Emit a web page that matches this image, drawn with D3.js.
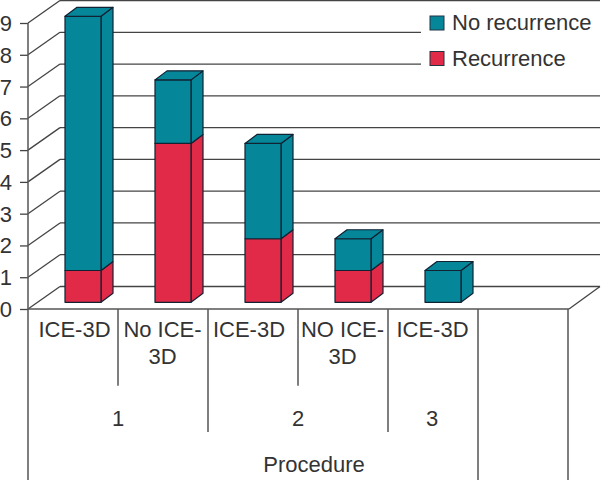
<!DOCTYPE html>
<html>
<head>
<meta charset="utf-8">
<script src="https://cdn.jsdelivr.net/npm/d3@7"></script>
<style>
html,body{margin:0;padding:0;background:#fff;}
svg{display:block;}
text{font-family:"Liberation Sans",Arial,sans-serif;fill:#333;}
</style>
</head>
<body>
<script>
const categories = ["a","b","c","d","e","f"];
const categoryLines = [["ICE-3D"],["No ICE-","3D"],["ICE-3D"],["NO ICE-","3D"],["ICE-3D"],[]];
const recurrence = [1,5,2,1,0,0];
const noRecurrence = [8,2,3,1,1,0];
const procedureNames = ["1","2","3"];
const seriesNames = ["Recurrence","No recurrence"];
const seriesColors = ["#e12a47","#058799"];
const legendNames = ["No recurrence","Recurrence"];
const legendColors = ["#058799","#e12a47"];
const yTicks = [0,1,2,3,4,5,6,7,8,9];

const W=601,H=480;
const labelShift=[1.5,-0.5,-4,-0.5,-0.5,0];
const procedureX=[118,298,432];
const svg=d3.select("body").append("svg").attr("width",W).attr("height",H);
const x=d3.scaleBand().domain(categories).range([28,568]);
const y=d3.scaleLinear().domain([0,9]).range([309,23]);
const wallDx=32,wallDy=-22.5;
const barOffset=37,barW=36,floorDy=-6.7,depthX=12,depthY=-9;
const lineCol="#444";

// back wall grid + side wall
const grid=svg.append("g").attr("fill","none").attr("stroke",lineCol).attr("stroke-width",1.3);
yTicks.forEach(t=>{
  const yy=y(t);
  grid.append("line").attr("x1",x.range()[0]).attr("y1",yy).attr("x2",x.range()[0]+wallDx).attr("y2",yy+wallDy);
  const broken=(t===8||t===7);
  grid.append("line").attr("x1",x.range()[0]+wallDx).attr("y1",yy+wallDy)
    .attr("x2",broken?421:600).attr("y2",yy+wallDy);
});
grid.append("line").attr("x1",569).attr("y1",y(0)).attr("x2",600).attr("y2",y(0)+wallDy);

// y axis
const axis=svg.append("g").attr("transform","translate(28,0)")
  .call(d3.axisLeft(y).tickValues(yTicks).tickSize(8).tickPadding(8).tickFormat(d3.format("d")));
axis.select(".domain").remove();
axis.selectAll("line").attr("stroke",lineCol).attr("stroke-width",1.3);
axis.selectAll("text").attr("font-size",22).attr("fill","#333").attr("dy","0.34em");
axis.attr("font-family",null);

// frame under the floor
const frame=svg.append("g").attr("stroke","#555").attr("stroke-width",1.5);
frame.append("line").attr("x1",28).attr("y1",y(9)).attr("x2",28).attr("y2",H);
frame.append("line").attr("x1",28).attr("y1",y(0)).attr("x2",569).attr("y2",y(0));
const edges=categories.map(c=>x(c)).concat([x.range()[1]]);
edges.slice(1).forEach((e,i)=>{
  const idx=i+1;
  const end=idx>=5?H:(idx%2===0?432:385.7);
  frame.append("line").attr("x1",e).attr("y1",y(0)).attr("x2",e).attr("y2",end);
});

// stacked bars
const rows=categories.map((c,i)=>({cat:c,Recurrence:recurrence[i],"No recurrence":noRecurrence[i]}));
const stacked=d3.stack().keys(seriesNames)(rows);
const barStroke="#123";
const bars=svg.append("g").attr("stroke",barStroke).attr("stroke-width",1.2).attr("stroke-linejoin","round");
stacked.forEach((s,si)=>{
  s.forEach((d,i)=>{
    if(d[1]===d[0])return;
    const x0=x(categories[i])+barOffset, x1=x0+barW;
    const yb=y(d[0])+floorDy, yt=y(d[1])+floorDy;
    const c=seriesColors[si];
    bars.append("path").attr("fill",c)
      .attr("d",d3.line()([[x1,yb],[x1+depthX,yb+depthY],[x1+depthX,yt+depthY],[x1,yt]])+"Z");
    bars.append("rect").attr("fill",c).attr("x",x0).attr("y",yt).attr("width",barW).attr("height",yb-yt);
    const total=recurrence[i]+noRecurrence[i];
    if(d[1]===total){
      bars.append("path").attr("fill",c)
        .attr("d",d3.line()([[x0,yt],[x0+depthX,yt+depthY],[x1+depthX,yt+depthY],[x1,yt]])+"Z");
    }
  });
});

// category labels
categoryLines.forEach((lines,i)=>{
  const cx=x(categories[i])+x.bandwidth()/2+labelShift[i];
  lines.forEach((t,j)=>{
    svg.append("text").attr("x",cx).attr("y",337+j*26.5).attr("text-anchor","middle").attr("font-size",22).text(t);
  });
});
procedureNames.forEach((p,i)=>{
  svg.append("text").attr("x",procedureX[i]).attr("y",426).attr("text-anchor","middle").attr("font-size",22).text(p);
});
svg.append("text").attr("x",314).attr("y",472).attr("text-anchor","middle").attr("font-size",22).text("Procedure");

// legend
legendNames.forEach((n,i)=>{
  const ly=16+i*35.5;
  svg.append("rect").attr("x",430).attr("y",ly).attr("width",14).attr("height",14)
    .attr("fill",legendColors[i]).attr("stroke","#234").attr("stroke-width",1);
  svg.append("text").attr("x",452).attr("y",ly+14).attr("font-size",22).text(n);
});
</script>
</body>
</html>
